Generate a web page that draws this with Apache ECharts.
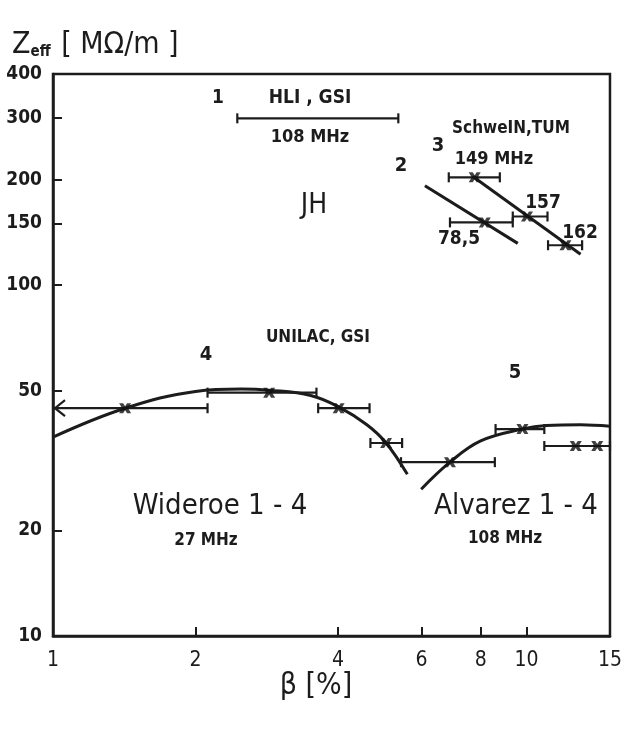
<!DOCTYPE html>
<html>
<head>
<meta charset="utf-8">
<script src="https://cdn.jsdelivr.net/npm/echarts@6/dist/echarts.min.js"></script>
<style>
  html, body { margin: 0; padding: 0; background: #fff; }
  #chart { width: 625px; height: 730px; }
</style>
</head>
<body>
<div id="chart"></div>
<script>
// beta [%] vs Z_eff [MOhm/m], log-log
var xTicks = [1, 2, 4, 6, 8, 10, 15];
var yTicks = [10, 20, 50, 100, 150, 200, 300, 400];

// Wideroe 1-4 (27 MHz) curve and measured points
var wideroeCurve = [[1, 36.9], [1.42, 44.6], [2.0, 49.8], [2.5, 50.6], [2.86, 50.2], [3.5, 48.5], [4.01, 45.0], [4.6, 40.0], [5.05, 35.5], [5.6, 28.9]];
var wideroePts = [[1.42, 44.6], [2.86, 49.4], [4.01, 44.6], [5.05, 35.5]];

// Alvarez 1-4 (108 MHz)
var alvarezCurve = [[5.99, 26.2], [6.89, 31.3], [8.0, 36.0], [9.8, 38.9], [11.0, 39.8], [13.0, 40.0], [15.0, 39.6]];
var alvarezPts = [[6.89, 31.3], [9.8, 38.9], [12.7, 34.8], [14.1, 34.8]];

// 2: 78.5 MHz, 3: Schwe IN,TUM 149/157/162 MHz
var line2 = [[6.1, 192], [9.58, 131.6]];
var line3 = [[7.7, 204], [13.0, 122.5]];
var pts2 = [[8.16, 151]];
var pts3 = [[7.77, 203], [10.02, 157], [12.08, 130]];

// horizontal error bars: [low, high, value, arrowAtLow]
var errBars = [
  [2.45, 5.36, 299, 0],   // HLI, GSI
  [1.0, 2.12, 44.6, 1],
  [2.12, 3.6, 49.4, 0],
  [3.63, 4.66, 44.6, 0],
  [4.68, 5.46, 35.5, 0],
  [5.43, 8.57, 31.3, 0],
  [8.6, 10.9, 38.9, 0],
  [10.9, 15.0, 34.8, 0],
  [6.89, 9.35, 151, 0],
  [6.85, 8.78, 203, 0],
  [9.35, 11.07, 157, 0],
  [11.1, 13.1, 130, 0]
];

var ink = '#1c1c1c';
var font = '"DejaVu Sans Condensed", "Liberation Sans Narrow", sans-serif';
var marker = 'path://M0,0L4,0L6,3L8,0L12,0L9,5L12,10L8,10L6,7L4,10L0,10L3,5Z';

var chart = echarts.init(document.getElementById('chart'));

function renderErr(params, api) {
  var y = api.value(2);
  var p1 = api.coord([api.value(0), y]);
  var p2 = api.coord([api.value(1), y]);
  var cap = 5;
  var st = { stroke: ink, lineWidth: 2.2 };
  var kids = [
    { type: 'line', shape: { x1: p1[0], y1: p1[1], x2: p2[0], y2: p2[1] }, style: st },
    { type: 'line', shape: { x1: p2[0], y1: p2[1] - cap, x2: p2[0], y2: p2[1] + cap }, style: st }
  ];
  if (api.value(3) === 1) {
    kids.push({ type: 'polyline', shape: { points: [[p1[0] + 12, p1[1] - 8], [p1[0] + 2, p1[1]], [p1[0] + 12, p1[1] + 8]] }, style: { stroke: ink, lineWidth: 2.2, fill: null } });
  } else {
    kids.push({ type: 'line', shape: { x1: p1[0], y1: p1[1] - cap, x2: p1[0], y2: p1[1] + cap }, style: st });
  }
  return { type: 'group', children: kids };
}

function curve(data) {
  return { type: 'line', data: data, smooth: 0.4, showSymbol: false, silent: true,
    lineStyle: { color: ink, width: 3 }, z: 3 };
}
function straight(data) {
  return { type: 'line', data: data, showSymbol: false, silent: true,
    lineStyle: { color: ink, width: 3 }, z: 3 };
}
function marks(data) {
  return { type: 'scatter', data: data, symbol: marker, symbolSize: [12, 10],
    itemStyle: { color: '#111' }, z: 5 };
}

function txt(x, y, s, size, bold, extra) {
  var o = { type: 'text', x: x, y: y, style: { text: s, fill: ink, font: (bold ? 'bold ' : '') + size + 'px ' + font, align: 'center', verticalAlign: 'middle' } };
  if (extra) for (var k in extra) o.style[k] = extra[k];
  return o;
}

var option = {
  animation: false,
  grid: { left: 53, right: 15, top: 74, bottom: 94, show: true, borderColor: ink, borderWidth: 2.5 },
  xAxis: {
    type: 'log', logBase: 10, min: 1, max: 15,
    axisLine: { lineStyle: { color: ink, width: 2.5 } },
    axisTick: { inside: true, length: 9, customValues: [2, 4, 6, 8, 10], lineStyle: { color: ink, width: 2 } },
    axisLabel: { customValues: xTicks, color: ink, fontFamily: font, fontSize: 21, margin: 14 },
    splitLine: { show: false }, minorTick: { show: false }
  },
  yAxis: {
    type: 'log', logBase: 10, min: 10, max: 400,
    axisLine: { lineStyle: { color: ink, width: 2.5 } },
    axisTick: { inside: true, length: 9, customValues: [20, 50, 100, 150, 200, 300], lineStyle: { color: ink, width: 2 } },
    axisLabel: { customValues: yTicks, color: ink, fontFamily: font, fontWeight: 'bold', fontSize: 19, margin: 11 },
    splitLine: { show: false }, minorTick: { show: false }
  },
  series: [
    curve(wideroeCurve),
    curve(alvarezCurve),
    straight(line2),
    straight(line3),
    { type: 'custom', renderItem: renderErr, data: errBars, encode: { x: [0, 1], y: 2 }, silent: true, z: 4 },
    marks(wideroePts),
    marks(alvarezPts),
    marks(pts2),
    marks(pts3)
  ],
  graphic: [
    { type: 'text', x: 12, y: 45, style: {
        text: '{z|Z}{s|eff}{z| [ MΩ/m ]}', fill: ink, verticalAlign: 'middle',
        rich: {
          z: { fontFamily: font, fontSize: 30, color: ink, verticalAlign: 'bottom' },
          s: { fontFamily: font, fontSize: 15, fontWeight: 'bold', color: ink, verticalAlign: 'bottom', padding: [0, 2, 0, 0] }
        } } },
    txt(218, 98, '1', 19, true),
    txt(310, 98, 'HLI , GSI', 19, true),
    txt(310, 137, '108 MHz', 18, true),
    txt(314, 206, 'JH', 28, false),
    txt(401, 166, '2', 20, true),
    txt(438, 146, '3', 20, true),
    txt(511, 129, 'SchweIN,TUM', 17, true, { letterSpacing: -0.5 }),
    txt(494, 159, '149 MHz', 18, true),
    txt(543, 203, '157', 19, true),
    txt(580, 233, '162', 19, true),
    txt(459, 239, '78,5', 19, true),
    txt(318, 338, 'UNILAC, GSI', 17, true),
    txt(206, 355, '4', 20, true),
    txt(515, 373, '5', 20, true),
    txt(220, 506, 'Wideroe 1 - 4', 29, false),
    txt(206, 541, '27 MHz', 17, true),
    txt(516, 506, 'Alvarez 1 - 4', 29, false),
    txt(505, 539, '108 MHz', 17, true),
    txt(316, 686, 'β [%]', 30, false)
  ]
};

chart.setOption(option);
</script>
</body>
</html>
